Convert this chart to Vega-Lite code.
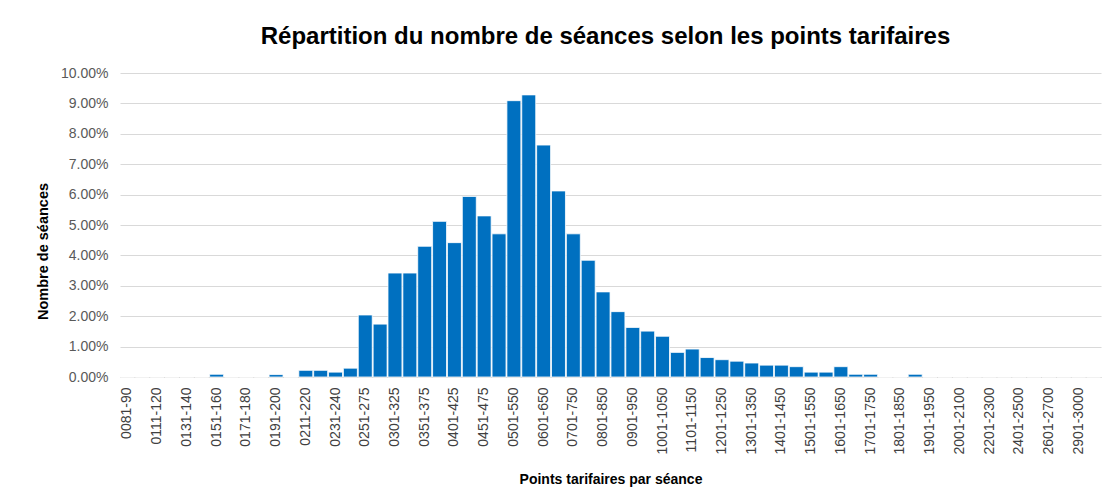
{
  "$schema": "https://vega.github.io/schema/vega-lite/v6.json",
  "width": 981,
  "height": 304,
  "autosize": {"type": "none"},
  "padding": {"left": 120, "top": 73, "right": 11, "bottom": 124},
  "background": "white",
  "title": {
    "text": "Répartition du nombre de séances selon les points tarifaires",
    "font": "Liberation Sans",
    "fontSize": 24,
    "fontWeight": "bold",
    "color": "#000000",
    "anchor": "middle",
    "offset": 17,
    "dx": -5
  },
  "data": {
    "values": [
      {"cat": "0081-90", "pct": 0},
      {"cat": "0091-110", "pct": 0},
      {"cat": "0111-120", "pct": 0},
      {"cat": "0121-130", "pct": 0},
      {"cat": "0131-140", "pct": 0},
      {"cat": "0141-150", "pct": 0},
      {"cat": "0151-160", "pct": 0.0009},
      {"cat": "0161-170", "pct": 0},
      {"cat": "0171-180", "pct": 0},
      {"cat": "0181-190", "pct": 0},
      {"cat": "0191-200", "pct": 0.0008},
      {"cat": "0201-210", "pct": 0},
      {"cat": "0211-220", "pct": 0.0022},
      {"cat": "0221-230", "pct": 0.0022},
      {"cat": "0231-240", "pct": 0.0016},
      {"cat": "0241-250", "pct": 0.0029},
      {"cat": "0251-275", "pct": 0.0204},
      {"cat": "0276-300", "pct": 0.0174},
      {"cat": "0301-325", "pct": 0.0342},
      {"cat": "0326-350", "pct": 0.0342},
      {"cat": "0351-375", "pct": 0.0430},
      {"cat": "0376-400", "pct": 0.0512},
      {"cat": "0401-425", "pct": 0.0442},
      {"cat": "0426-450", "pct": 0.0594},
      {"cat": "0451-475", "pct": 0.0530},
      {"cat": "0476-500", "pct": 0.0471},
      {"cat": "0501-550", "pct": 0.0909},
      {"cat": "0551-600", "pct": 0.0928},
      {"cat": "0601-650", "pct": 0.0763},
      {"cat": "0651-700", "pct": 0.0612},
      {"cat": "0701-750", "pct": 0.0471},
      {"cat": "0751-800", "pct": 0.0384},
      {"cat": "0801-850", "pct": 0.0280},
      {"cat": "0851-900", "pct": 0.0215},
      {"cat": "0901-950", "pct": 0.0163},
      {"cat": "0951-1000", "pct": 0.0151},
      {"cat": "1001-1050", "pct": 0.0134},
      {"cat": "1051-1100", "pct": 0.0081},
      {"cat": "1101-1150", "pct": 0.0092},
      {"cat": "1151-1200", "pct": 0.0064},
      {"cat": "1201-1250", "pct": 0.0057},
      {"cat": "1251-1300", "pct": 0.0052},
      {"cat": "1301-1350", "pct": 0.0046},
      {"cat": "1351-1400", "pct": 0.0039},
      {"cat": "1401-1450", "pct": 0.0039},
      {"cat": "1451-1500", "pct": 0.0034},
      {"cat": "1501-1550", "pct": 0.0016},
      {"cat": "1551-1600", "pct": 0.0016},
      {"cat": "1601-1650", "pct": 0.0034},
      {"cat": "1651-1700", "pct": 0.0009},
      {"cat": "1701-1750", "pct": 0.0009},
      {"cat": "1751-1800", "pct": 0},
      {"cat": "1801-1850", "pct": 0},
      {"cat": "1851-1900", "pct": 0.0009},
      {"cat": "1901-1950", "pct": 0},
      {"cat": "1951-2000", "pct": 0},
      {"cat": "2001-2100", "pct": 0},
      {"cat": "2101-2200", "pct": 0},
      {"cat": "2201-2300", "pct": 0},
      {"cat": "2301-2400", "pct": 0},
      {"cat": "2401-2500", "pct": 0},
      {"cat": "2501-2600", "pct": 0},
      {"cat": "2601-2700", "pct": 0},
      {"cat": "2701-2900", "pct": 0},
      {"cat": "2901-3000", "pct": 0},
      {"cat": "3001+", "pct": 0}
    ]
  },
  "mark": {"type": "bar", "color": "#0070C0", "stroke": "white", "strokeWidth": 0.8},
  "encoding": {
    "x": {
      "field": "cat",
      "type": "nominal",
      "sort": null,
      "scale": {"paddingInner": 0.06, "paddingOuter": 0.03},
      "axis": {
        "title": "Points tarifaires par séance",
        "titleFont": "Liberation Sans",
        "titleFontSize": 14,
        "titleFontWeight": "bold",
        "titleColor": "#000000",
        "titlePadding": 19,
        "values": ["0081-90","0111-120","0131-140","0151-160","0171-180","0191-200","0211-220","0231-240","0251-275","0301-325","0351-375","0401-425","0451-475","0501-550","0601-650","0701-750","0801-850","0901-950","1001-1050","1101-1150","1201-1250","1301-1350","1401-1450","1501-1550","1601-1650","1701-1750","1801-1850","1901-1950","2001-2100","2201-2300","2401-2500","2601-2700","2901-3000"],
        "labelAngle": -90,
        "labelAlign": "right",
        "labelBaseline": "middle",
        "labelFont": "Liberation Sans",
        "labelFontSize": 14,
        "labelColor": "#404040",
        "labelPadding": 10,
        "ticks": false,
        "domainColor": "#d9d9d9",
        "domainWidth": 1,
        "grid": false
      }
    },
    "y": {
      "field": "pct",
      "type": "quantitative",
      "scale": {"domain": [0, 0.1], "nice": false},
      "axis": {
        "title": "Nombre de séances",
        "titleFont": "Liberation Sans",
        "titleFontSize": 14.5,
        "titleFontWeight": "bold",
        "titleColor": "#000000",
        "titlePadding": 10,
        "titleY": 178,
        "format": ".2%",
        "values": [0, 0.01, 0.02, 0.03, 0.04, 0.05, 0.06, 0.07, 0.08, 0.09, 0.1],
        "labelFont": "Liberation Sans",
        "labelFontSize": 14,
        "labelColor": "#595959",
        "labelPadding": 12,
        "ticks": false,
        "domain": false,
        "grid": true,
        "gridColor": "#d9d9d9",
        "gridWidth": 1.2
      }
    }
  },
  "config": {
    "view": {"stroke": null}
  }
}
